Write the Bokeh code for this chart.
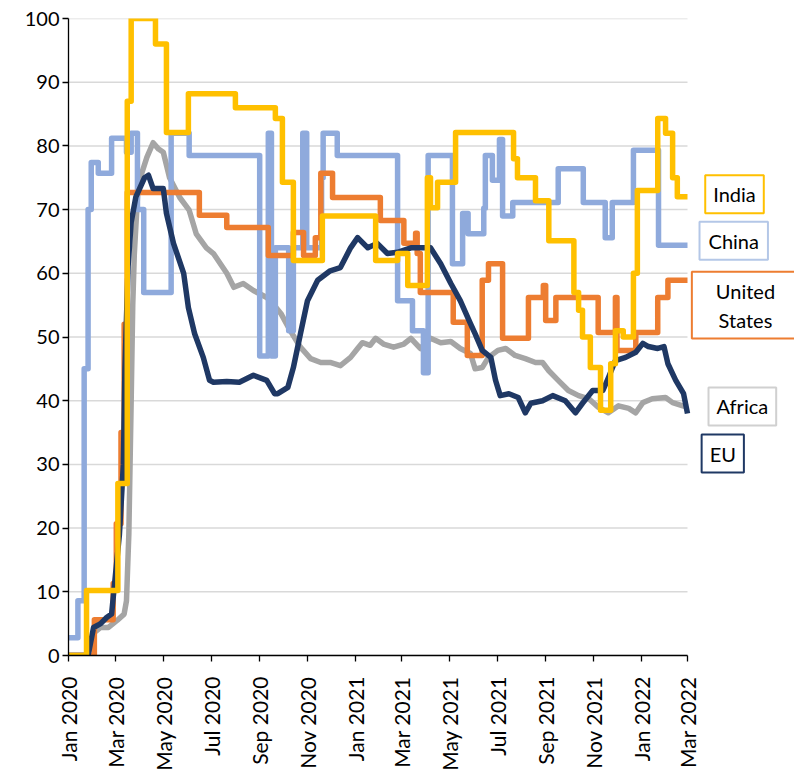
import pandas as pd
from math import pi
from bokeh.plotting import figure
from bokeh.models import Range1d, FixedTicker, Label, DatetimeTickFormatter
from bokeh.embed import file_html
from bokeh.resources import INLINE

# ---------------- data ----------------
tick_dates = ["2020-01-01", "2020-03-01", "2020-05-01", "2020-07-01", "2020-09-01", "2020-11-01",
              "2021-01-01", "2021-03-01", "2021-05-01", "2021-07-01", "2021-09-01", "2021-11-01",
              "2022-01-01", "2022-03-01"]
tick_labels = ["Jan 2020", "Mar 2020", "May 2020", "Jul 2020", "Sep 2020", "Nov 2020",
               "Jan 2021", "Mar 2021", "May 2021", "Jul 2021", "Sep 2021", "Nov 2021",
               "Jan 2022", "Mar 2022"]
y_ticks = [0, 10, 20, 30, 40, 50, 60, 70, 80, 90, 100]

china_dates = ["2020-01-01", "2020-01-13", "2020-01-21", "2020-01-26", "2020-01-30", "2020-02-08",
               "2020-02-25", "2020-03-15", "2020-03-21", "2020-03-29", "2020-04-06", "2020-05-11",
               "2020-06-03", "2020-09-01", "2020-09-12", "2020-09-16", "2020-09-21", "2020-10-08",
               "2020-10-14", "2020-10-26", "2020-10-31", "2020-11-19", "2020-11-21", "2020-12-09",
               "2021-02-24", "2021-03-15", "2021-03-29", "2021-04-04", "2021-05-05", "2021-05-18",
               "2021-05-25", "2021-06-14", "2021-06-16", "2021-06-25", "2021-07-04", "2021-07-08",
               "2021-07-21", "2021-09-17", "2021-10-19", "2021-11-16", "2021-11-25", "2021-12-22",
               "2022-01-23", "2022-03-01"]
china_vals = [2.8, 8.6, 45, 70, 77.4, 75.7, 81.2, 79, 82, 70, 57, 82, 78.5, 47, 82, 47, 64, 51, 64, 82,
              64, 75, 82, 78.5, 55.7, 51, 44.4, 78.5, 61.5, 69.4, 66.2, 70.2, 78.5, 74.6, 81, 69,
              71.1, 76.4, 71.1, 65.6, 71.1, 79.3, 64.4, 64.4]

india_dates = ["2020-01-01", "2020-01-24", "2020-03-04", "2020-03-16", "2020-03-21", "2020-04-21",
               "2020-05-05", "2020-06-02", "2020-08-01", "2020-09-21", "2020-09-30", "2020-10-14",
               "2020-11-20", "2021-01-27", "2021-02-24", "2021-03-09", "2021-04-03", "2021-04-07",
               "2021-04-16", "2021-05-09", "2021-07-22", "2021-07-27", "2021-08-19", "2021-09-05",
               "2021-10-07", "2021-10-13", "2021-10-18", "2021-10-28", "2021-11-10", "2021-11-23",
               "2021-11-29", "2021-12-09", "2021-12-22", "2021-12-27", "2022-01-22", "2022-02-01",
               "2022-02-10", "2022-02-16", "2022-03-01"]
india_vals = [0, 10.2, 27, 87, 100, 96, 82.1, 88.2, 86, 84.3, 74.3, 62, 69, 62, 63.1, 58.1, 75, 70.3,
              74.3, 82.1, 78, 75, 71.4, 65.1, 57, 54.2, 50, 45.2, 38.5, 45.8, 51, 50, 60, 73, 84.3,
              82, 75, 72, 72]

us_dates = ["2020-01-01", "2020-02-03", "2020-02-27", "2020-03-02", "2020-03-08", "2020-03-12",
            "2020-03-16", "2020-06-16", "2020-07-21", "2020-09-12", "2020-10-14", "2020-10-27",
            "2020-11-11", "2020-11-18", "2020-12-03", "2021-02-02", "2021-03-04", "2021-03-19",
            "2021-03-21", "2021-03-25", "2021-05-06", "2021-05-24", "2021-06-12", "2021-06-20",
            "2021-07-08", "2021-08-10", "2021-08-29", "2021-09-01", "2021-09-14", "2021-11-07",
            "2021-11-29", "2021-12-01", "2021-12-25", "2022-01-22", "2022-02-04", "2022-03-01"]
us_vals = [0, 5.6, 11.3, 20.7, 35, 52, 72.7, 69.1, 67.2, 62.8, 66.4, 62.8, 65.6, 75.7, 71.9, 68.3,
           64.7, 66.3, 63.1, 57, 52.3, 47.1, 58.9, 61.5, 49.8, 56.2, 58.1, 52.6, 56.2, 50.7, 56.2,
           47.9, 50.7, 56.2, 58.9, 58.9]

eu_dates = ["2020-01-01", "2020-01-26", "2020-02-02", "2020-02-11", "2020-02-19", "2020-02-25",
            "2020-03-02", "2020-03-06", "2020-03-11", "2020-03-13", "2020-03-17", "2020-03-21",
            "2020-03-27", "2020-04-07", "2020-04-12", "2020-04-18", "2020-05-01", "2020-05-05",
            "2020-05-14", "2020-05-27", "2020-06-02", "2020-06-10", "2020-06-21", "2020-06-29",
            "2020-07-04", "2020-07-21", "2020-08-06", "2020-08-24", "2020-09-10", "2020-09-20",
            "2020-09-24", "2020-10-07", "2020-10-14", "2020-10-23", "2020-11-01", "2020-11-14",
            "2020-11-30", "2020-12-13", "2020-12-26", "2021-01-04", "2021-01-17", "2021-01-29",
            "2021-02-11", "2021-02-24", "2021-03-13", "2021-03-29", "2021-04-07", "2021-04-20",
            "2021-05-03", "2021-05-15", "2021-05-28", "2021-06-03", "2021-06-12", "2021-06-23",
            "2021-06-29", "2021-07-05", "2021-07-16", "2021-07-28", "2021-08-06", "2021-08-13",
            "2021-08-28", "2021-09-10", "2021-09-26", "2021-10-09", "2021-10-18", "2021-10-31",
            "2021-11-13", "2021-11-20", "2021-11-29", "2021-12-12", "2021-12-25", "2022-01-03",
            "2022-01-10", "2022-01-22", "2022-01-30", "2022-02-04", "2022-02-14", "2022-02-24",
            "2022-03-01"]
eu_vals = [0, 0, 4.4, 5, 6, 6.5, 14, 19, 30, 45, 61, 68, 72, 75, 75.4, 73.3, 73.3, 69.4, 64.7, 60,
           54.6, 50.5, 46.8, 43.2, 42.9, 43, 42.9, 44, 43.2, 41.1, 41.1, 42.1, 45.2, 50.5, 55.7,
           58.9, 60.4, 60.9, 64, 65.6, 64, 64.7, 63.1, 63.3, 64, 64, 64, 61.5, 58.4, 55.7, 52.1,
           50.5, 47.9, 46.8, 43.2, 40.8, 41.1, 40.5, 38.1, 39.6, 40, 40.8, 40, 38.1, 39.6, 41.6,
           41.6, 43.6, 46.3, 46.8, 47.6, 49, 48.5, 48.2, 48.5, 45.8, 43.2, 41.1, 38]

africa_dates = ["2020-01-01", "2020-01-26", "2020-02-02", "2020-02-11", "2020-02-21", "2020-03-03",
                "2020-03-12", "2020-03-15", "2020-03-18", "2020-03-21", "2020-03-23", "2020-03-25",
                "2020-03-30", "2020-04-10", "2020-04-18", "2020-04-25", "2020-05-01", "2020-05-09",
                "2020-05-22", "2020-06-03", "2020-06-12", "2020-06-25", "2020-07-04", "2020-07-21",
                "2020-07-30", "2020-08-11", "2020-08-24", "2020-09-10", "2020-09-22", "2020-09-28",
                "2020-10-10", "2020-10-23", "2020-11-05", "2020-11-18", "2020-11-30", "2020-12-13",
                "2020-12-26", "2021-01-04", "2021-01-10", "2021-01-20", "2021-01-27", "2021-02-06",
                "2021-02-19", "2021-03-04", "2021-03-13", "2021-03-25", "2021-04-07", "2021-04-20",
                "2021-05-03", "2021-05-15", "2021-05-28", "2021-06-03", "2021-06-12", "2021-06-20",
                "2021-07-02", "2021-07-12", "2021-07-24", "2021-08-06", "2021-08-19", "2021-08-28",
                "2021-09-05", "2021-09-17", "2021-09-30", "2021-10-13", "2021-10-26", "2021-11-07",
                "2021-11-20", "2021-12-03", "2021-12-16", "2021-12-25", "2022-01-03", "2022-01-15",
                "2022-02-01", "2022-02-10", "2022-02-23", "2022-03-01"]
africa_vals = [0, 0, 3.5, 4.4, 4.4, 5.5, 6.5, 8.6, 19, 40, 55, 63, 74, 78.2, 80.5, 79.5, 79, 75,
               71.9, 69.9, 66.2, 64, 63.1, 60, 57.8, 58.4, 57.3, 56.2, 54.6, 53.7, 51, 48.4, 46.6,
               46, 46, 45.5, 46.8, 48.2, 49.1, 48.7, 49.8, 48.9, 48.4, 48.9, 49.8, 48.2, 49.8, 49.1,
               49.3, 48.2, 47.4, 45, 45.2, 46.8, 47.9, 48.2, 47.1, 46.6, 46, 46, 44.7, 43.2, 41.6,
               40.8, 40.3, 39, 38.1, 39.2, 38.8, 38.1, 39.7, 40.3, 40.5, 39.7, 39.2, 39]

# series label boxes placed to the right of the data
label_text = ["India", "China", "United\nStates", "Africa", "EU"]
label_dates = ["2022-04-30", "2022-04-29", "2022-05-14", "2022-05-10", "2022-04-15"]
label_vals = [72.4, 65.1, 55.0, 39.1, 31.7]

# ---------------- styling ----------------
C_CHINA = "#8FAADC"
C_INDIA = "#FFC000"
C_US = "#ED7D31"
C_EU = "#1F3864"
C_AFRICA = "#A5A5A5"
FONT = "Lato"

W, H = 794, 775
LEFT, TOP, BOTTOM = 68, 18, 120
DATA_PX = 619          # pixel width of the Jan 2020 - Mar 2022 span


def dt(lst):
    return pd.to_datetime(lst)


def ms(s):
    return pd.Timestamp(s).value / 1e6


x_start = pd.Timestamp(tick_dates[0])
x_end_data = pd.Timestamp(tick_dates[-1])
span_days = (x_end_data - x_start).days
x_end_frame = x_start + pd.Timedelta(days=span_days * (W - LEFT) / DATA_PX)

p = figure(width=W, height=H, x_axis_type="datetime", output_backend="svg",
           toolbar_location=None,
           x_range=Range1d(x_start, x_end_frame),
           y_range=Range1d(0, 100),
           min_border_left=LEFT, min_border_right=0, min_border_top=TOP,
           min_border_bottom=BOTTOM)
p.outline_line_color = None
p.background_fill_color = "white"
p.border_fill_color = "white"

# horizontal gridlines limited to the data span
p.xgrid.visible = False
p.ygrid.visible = False
p.segment(x0=[x_start] * len(y_ticks), y0=y_ticks, x1=[x_end_data] * len(y_ticks), y1=y_ticks,
          line_color="#D9D9D9", line_width=1.5)

LW = 5.5
p.line(dt(africa_dates), africa_vals, line_width=LW, color=C_AFRICA, line_join="round")
p.step(dt(china_dates), china_vals, mode="after", line_width=LW, color=C_CHINA, line_join="round")
p.step(dt(us_dates), us_vals, mode="after", line_width=LW, color=C_US, line_join="round")
p.line(dt(eu_dates), eu_vals, line_width=LW, color=C_EU, line_join="round")
p.step(dt(india_dates), india_vals, mode="after", line_width=LW, color=C_INDIA, line_join="round")

# axes
p.yaxis.ticker = FixedTicker(ticks=y_ticks)
p.xaxis.ticker = FixedTicker(ticks=[ms(d) for d in tick_dates])
p.xaxis.bounds = (ms(tick_dates[0]), ms(tick_dates[-1]))
p.xaxis.formatter = DatetimeTickFormatter(months="%b %Y", days="%b %Y", years="%b %Y",
                                          hours="%b %Y", hourmin="%b %Y")
p.xaxis.major_label_overrides = {ms(d): lab for d, lab in zip(tick_dates, tick_labels)}
p.xaxis.major_label_orientation = pi / 2

for ax in (p.xaxis[0], p.yaxis[0]):
    ax.axis_line_color = "black"
    ax.axis_line_width = 1.3
    ax.major_tick_line_color = "black"
    ax.major_tick_line_width = 1.3
    ax.major_tick_out = 6
    ax.major_tick_in = 0
    ax.minor_tick_out = 0
    ax.minor_tick_in = 0
    ax.major_label_text_font = FONT
    ax.major_label_text_color = "black"
p.xaxis.major_label_text_font_size = "21px"
p.yaxis.major_label_text_font_size = "20px"
p.xaxis.major_label_standoff = 15
p.yaxis.major_label_standoff = 3

colors = [C_INDIA, "#B4C7E7", C_US, "#D0D0D0", C_EU]
pads = [dict(left=8, right=8, top=7, bottom=7),
        dict(left=9, right=9, top=7, bottom=7),
        dict(left=24, right=24, top=7, bottom=7),
        dict(left=8, right=8, top=7, bottom=7),
        dict(left=8, right=8, top=7, bottom=7)]
for t, d, v, c, pd_ in zip(label_text, label_dates, label_vals, colors, pads):
    p.add_layout(Label(x=ms(d), y=v, text=t, text_align="center", text_baseline="middle",
                       text_font=FONT, text_font_size="20px", text_color="black",
                       border_line_color=c, border_line_width=2,
                       background_fill_color="white", padding=pd_))

open("out.html", "w").write(file_html(p, INLINE))
